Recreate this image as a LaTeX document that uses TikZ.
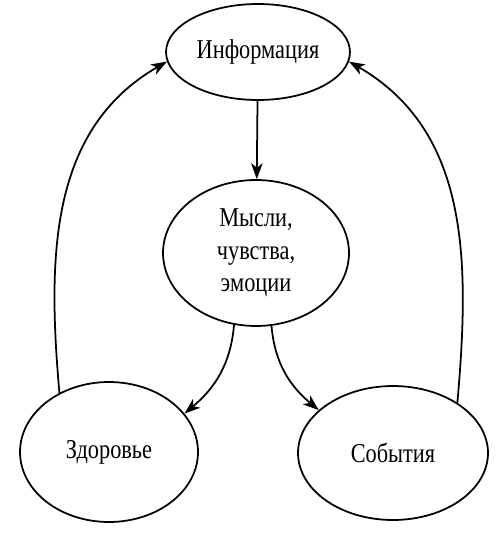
\documentclass[tikz,border=0pt]{standalone}
\usepackage{fontspec}
\setmainfont{Liberation Serif}[FakeStretch=0.82]
\usepackage{tikz}
\usetikzlibrary{
    shapes.geometric, % For ellipses
    arrows.meta       % For Stealth arrow tips
}
\tikzset{
    % An ellipse for each factor
    factor_node/.style={
        ellipse, draw=black, line width=1pt, fill=white,
        inner sep=0pt, align=center,
        font=\fontsize{15.5}{18.5}\selectfont
    },
    % Arrow style for the influence links
    influence_arrow/.style={-{Stealth[length=9pt, width=6.5pt, inset=2.5pt]}, line width=1pt, draw=black}
}
\begin{document}
\begin{tikzpicture}[x=0.02cm, y=-0.02cm]

\useasboundingbox (0,0) rectangle (500,537);

% --- NODE DEFINITIONS ---

% Top layer
\node[factor_node, minimum width=3.68cm, minimum height=1.92cm] (info) at (258,52) {Информация};

% Middle layer
\node[factor_node, minimum width=3.72cm, minimum height=2.92cm] (thoughts) at (256,253) {Мысли,\\чувства,\\эмоции};

% Bottom layer
\node[factor_node, minimum width=3.56cm, minimum height=2.8cm] (health) at (109,452) {Здоровье};
\node[factor_node, minimum width=3.8cm, minimum height=2.68cm] (events) at (393,453) {События};

% --- EDGE ROUTING ---

\draw[influence_arrow] (info) -- (thoughts);
\draw[influence_arrow] (thoughts.-107) to[out=-95, in=40] (health.27);
\draw[influence_arrow] (thoughts.-78) to[out=-85, in=140] (events.150);

% Feedback arcs round the sides
\draw[influence_arrow] (health.130) to[out=95, in=-150] (info.186);
\draw[influence_arrow] (events.38) to[out=85, in=-30] (info.-6);

\end{tikzpicture}
\end{document}
